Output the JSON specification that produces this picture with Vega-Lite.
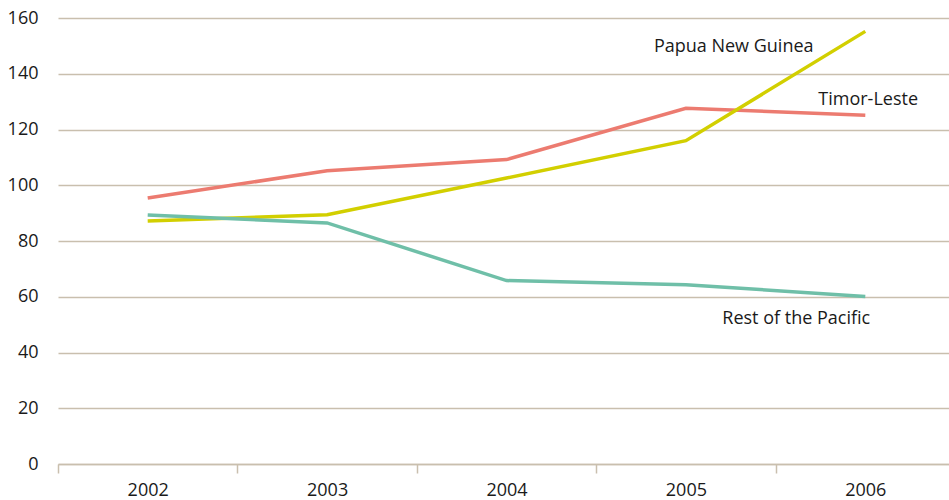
{
  "$schema": "https://vega.github.io/schema/vega-lite/v6.json",
  "width": 891,
  "height": 446,
  "autosize": {"type": "none"},
  "padding": {"left": 58, "top": 18, "right": 0, "bottom": 36},
  "background": "white",
  "config": {
    "view": {"stroke": null},
    "font": "Open Sans",
    "axis": {"labelFont": "Open Sans", "labelFontSize": 18, "labelColor": "#1a1a1a"}
  },
  "datasets": {
    "series": [
      {"year": "2002", "country": "Timor-Leste", "value": 95.4},
      {"year": "2003", "country": "Timor-Leste", "value": 105.2},
      {"year": "2004", "country": "Timor-Leste", "value": 109.2},
      {"year": "2005", "country": "Timor-Leste", "value": 127.6},
      {"year": "2006", "country": "Timor-Leste", "value": 125.1},
      {"year": "2002", "country": "Papua New Guinea", "value": 87.2},
      {"year": "2003", "country": "Papua New Guinea", "value": 89.4},
      {"year": "2004", "country": "Papua New Guinea", "value": 102.6},
      {"year": "2005", "country": "Papua New Guinea", "value": 116.0},
      {"year": "2006", "country": "Papua New Guinea", "value": 155.2},
      {"year": "2002", "country": "Rest of the Pacific", "value": 89.3},
      {"year": "2003", "country": "Rest of the Pacific", "value": 86.5},
      {"year": "2004", "country": "Rest of the Pacific", "value": 65.8},
      {"year": "2005", "country": "Rest of the Pacific", "value": 64.3},
      {"year": "2006", "country": "Rest of the Pacific", "value": 60.1}
    ],
    "labels": [
      {"year": "2005", "label": "Papua New Guinea", "value": 147.8},
      {"year": "2006", "label": "Timor-Leste", "value": 128.7},
      {"year": "2006", "label": "Rest of the Pacific", "value": 50.1}
    ]
  },
  "encoding": {
    "x": {
      "field": "year", "type": "ordinal", "title": null,
      "scale": {"type": "band", "paddingInner": 0, "paddingOuter": 0, "range": [0, 897]},
      "axis": {
        "labelAngle": 0, "domainColor": "#c9bfae", "domainWidth": 1.5,
        "tickColor": "#c9bfae", "tickWidth": 1.5, "tickSize": 9, "tickBand": "extent",
        "labelPadding": 8, "grid": false
      }
    },
    "y": {
      "field": "value", "type": "quantitative", "title": null,
      "scale": {"domain": [0, 160], "nice": false},
      "axis": {
        "values": [0, 20, 40, 60, 80, 100, 120, 140, 160],
        "domain": false, "ticks": false, "labelPadding": 20,
        "grid": true, "gridColor": "#c9bfae", "gridWidth": 1.5
      }
    }
  },
  "layer": [
    {
      "data": {"name": "series"},
      "mark": {"type": "line", "strokeWidth": 3.5},
      "encoding": {
        "color": {
          "field": "country", "type": "nominal", "legend": null,
          "scale": {
            "domain": ["Timor-Leste", "Papua New Guinea", "Rest of the Pacific"],
            "range": ["#ec7b70", "#d2cf00", "#6fbfa8"]
          }
        }
      }
    },
    {
      "data": {"name": "labels"},
      "transform": [{"filter": "datum.label === 'Papua New Guinea'"}],
      "mark": {"type": "text", "align": "left", "baseline": "alphabetic", "fontSize": 18, "font": "Open Sans", "color": "#1a1a1a", "dx": -32},
      "encoding": {"text": {"field": "label"}}
    },
    {
      "data": {"name": "labels"},
      "transform": [{"filter": "datum.label === 'Timor-Leste'"}],
      "mark": {"type": "text", "align": "left", "baseline": "alphabetic", "fontSize": 18, "font": "Open Sans", "color": "#1a1a1a", "dx": -47},
      "encoding": {"text": {"field": "label"}}
    },
    {
      "data": {"name": "labels"},
      "transform": [{"filter": "datum.label === 'Rest of the Pacific'"}],
      "mark": {"type": "text", "align": "left", "baseline": "alphabetic", "fontSize": 18, "font": "Open Sans", "color": "#1a1a1a", "dx": -143},
      "encoding": {"text": {"field": "label"}}
    }
  ]
}
